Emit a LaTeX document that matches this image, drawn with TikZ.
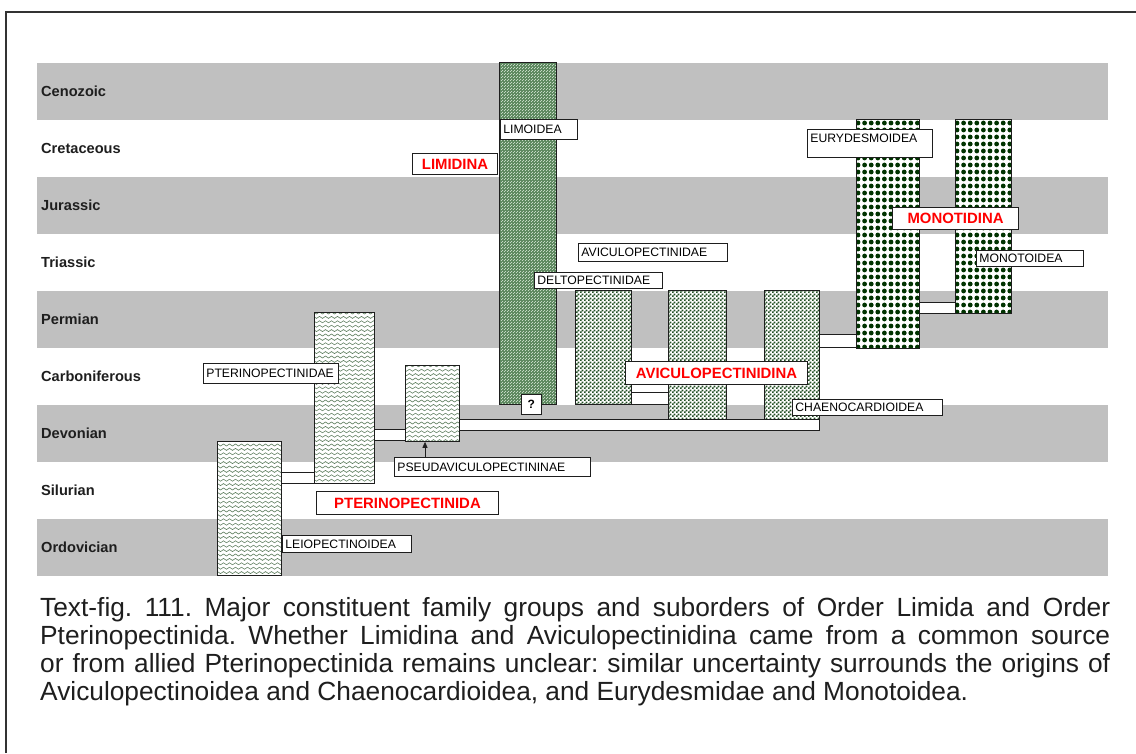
\documentclass[tikz,border=0pt]{standalone}
\usepackage{fontspec}
\setmainfont{Liberation Sans}
\usetikzlibrary{arrows.meta,patterns}
\definecolor{Ink}{HTML}{1E1E1E}
\definecolor{Band}{HTML}{C0C0C0}
\definecolor{Ripple}{HTML}{5E7E5F}
\definecolor{LimFill}{HTML}{5F8A61}
\definecolor{LimDot}{HTML}{C4D9C4}
\definecolor{Speck}{HTML}{224F24}
\definecolor{MonoDot}{HTML}{003300}
\definecolor{Suborder}{HTML}{FF0000}

% fills for the ranges
\pgfdeclarepatternformonly{ripple}{\pgfpoint{0pt}{-1.5pt}}{\pgfpoint{6pt}{1.5pt}}{\pgfpoint{6pt}{4.4pt}}{%
  \pgfsetlinewidth{0.6pt}%
  \pgfpathmoveto{\pgfpoint{0pt}{0pt}}%
  \pgfpathlineto{\pgfpoint{1.5pt}{1pt}}%
  \pgfpathlineto{\pgfpoint{4.5pt}{-1pt}}%
  \pgfpathlineto{\pgfpoint{6pt}{0pt}}%
  \pgfusepath{stroke}}
\pgfdeclarepatternformonly{lattice}{\pgfpointorigin}{\pgfpoint{3pt}{3pt}}{\pgfpoint{3pt}{3pt}}{%
  \pgfpathrectangle{\pgfpointorigin}{\pgfpoint{1pt}{1pt}}%
  \pgfpathrectangle{\pgfpoint{1.5pt}{1.5pt}}{\pgfpoint{1pt}{1pt}}%
  \pgfusepath{fill}}
\pgfdeclarepatternformonly{speckle}{\pgfpointorigin}{\pgfpoint{4pt}{4pt}}{\pgfpoint{4pt}{4pt}}{%
  \pgfpathrectangle{\pgfpointorigin}{\pgfpoint{2.1pt}{2.1pt}}%
  \pgfpathrectangle{\pgfpoint{2pt}{2pt}}{\pgfpoint{2.1pt}{2.1pt}}%
  \pgfusepath{fill}}
\pgfdeclarepatternformonly{monodots}{\pgfpoint{-3.3pt}{-3.5pt}}{\pgfpoint{3.3pt}{3.5pt}}{\pgfpoint{6.6pt}{7pt}}{%
  \pgfpathcircle{\pgfpointorigin}{2.4pt}%
  \pgfusepath{fill}}

% white tag, name set flush left
\newcommand{\Tag}[6]{%
  \pgfmathsetmacro\tagw{#4-6}%
  \node[tag,text width=\tagw pt,minimum height=#5] (#1) at (#2,#3) {#6};%
}

\begin{document}
\frenchspacing
\begin{tikzpicture}[x=1pt,y=-1pt,
  era/.style={anchor=west,inner sep=0pt,text=Ink,font=\fontsize{14.6}{16}\selectfont\bfseries},
  column/.style={draw=Ink,line width=0.8pt,fill=white,inner sep=0pt,anchor=north west},
  wavecol/.style={column,path picture={\fill[pattern=ripple,pattern color=Ripple]
    (path picture bounding box.south west) rectangle (path picture bounding box.north east);}},
  limcol/.style={column,fill=LimFill,path picture={\fill[pattern=lattice,pattern color=LimDot]
    (path picture bounding box.south west) rectangle (path picture bounding box.north east);}},
  speckcol/.style={column,path picture={\fill[pattern=speckle,pattern color=Speck]
    (path picture bounding box.south west) rectangle (path picture bounding box.north east);}},
  dotcol/.style={column,path picture={\fill[pattern=monodots,pattern color=MonoDot]
    (path picture bounding box.south west) rectangle (path picture bounding box.north east);}},
  bar/.style={draw=Ink,line width=0.8pt,fill=white},
  tag/.style={draw=Ink,fill=white,line width=0.8pt,anchor=north west,inner xsep=3pt,inner ysep=0pt,
    align=left,text=black,font=\fontsize{12.2}{14}\selectfont},
  suborder/.style={draw=Ink,fill=white,line width=1pt,anchor=north west,inner sep=0pt,
    text=Suborder,font=\fontsize{14.9}{17}\selectfont\bfseries},
  qbox/.style={draw=Ink,fill=white,line width=0.8pt,anchor=north west,inner sep=0pt,
    font=\fontsize{12}{14}\selectfont\bfseries},
  pointer/.style={draw=Ink,line width=0.8pt,-{Triangle[length=6pt,width=5pt]}},
  caption/.style={anchor=base west,inner sep=0pt,align=left,text=Ink,
    font=\fontsize{26.3}{27.7}\selectfont}]
\useasboundingbox (0,0) rectangle (1136,753);

% time scale
\foreach \n/\p in {0/Cenozoic,1/Cretaceous,2/Jurassic,3/Triassic,4/Permian,
                   5/Carboniferous,6/Devonian,7/Silurian,8/Ordovician} {
  \ifodd\n\else \fill[Band] (37,{63+57*\n}) rectangle (1108,{120+57*\n}); \fi
  \node[era] (era\n) at (41,{91.5+57*\n}) {\p};
}

% ranges
\node[wavecol,minimum width=64,minimum height=134] (leio) at (217,441) {};
\node[wavecol,minimum width=60,minimum height=171] (ptfam) at (314,312) {};
\node[wavecol,minimum width=54,minimum height=76] (pseudo) at (405,365) {};
\node[limcol,minimum width=57,minimum height=342] (limo) at (499,62) {};
\node[speckcol,minimum width=56,minimum height=114] (delto) at (575,290) {};
\node[speckcol,minimum width=58,minimum height=129] (avic) at (668,290) {};
\node[speckcol,minimum width=55,minimum height=129] (chaeno) at (764,290) {};
\node[dotcol,minimum width=63,minimum height=229] (eury) at (856,119) {};
\node[dotcol,minimum width=56,minimum height=194] (mono) at (955,119) {};

% links between ranges
\draw[bar] (leio.east |- 0,472) rectangle (ptfam.west |- 0,483);
\draw[bar] (ptfam.east |- 0,429) rectangle (pseudo.west |- 0,440);
\draw[bar] (pseudo.east |- 0,419) rectangle (chaeno.east |- 0,430);
\draw[bar] (delto.east |- 0,392) rectangle (avic.west |- 0,404);
\draw[bar] (chaeno.east |- 0,334) rectangle (eury.west |- 0,347);
\draw[bar] (eury.east |- 0,302) rectangle (mono.west |- 0,313);

% family group names
\Tag{limotag}{500}{119}{77}{20}{LIMOIDEA}
\Tag{avictag}{578}{243}{149}{18}{AVICULOPECTINIDAE}
\Tag{deltotag}{534}{272}{128}{16}{DELTOPECTINIDAE}
\Tag{chaenotag}{792}{399}{150}{16}{CHAENOCARDIOIDEA}
\Tag{pseudotag}{394}{457}{196}{19}{PSEUDAVICULOPECTININAE}
\Tag{ptfamtag}{203}{363}{135}{20}{PTERINOPECTINIDAE}
\Tag{leiotag}{282}{535}{129}{17}{LEIOPECTINOIDEA}
\Tag{monotag}{976}{250}{107}{16}{MONOTOIDEA}
\node[tag,text width=119pt,minimum height=28,inner ysep=4pt,text depth=11pt] (eurytag) at (807,129) {EURYDESMOIDEA};

% suborders
\node[suborder,minimum width=85,minimum height=21] (limidina) at (412,153) {LIMIDINA};
\node[suborder,minimum width=182,minimum height=23] (avicdina) at (625,361) {AVICULOPECTINIDINA};
\node[suborder,minimum width=182,minimum height=23] (ptdina) at (316,491) {PTERINOPECTINIDA};
\node[suborder,minimum width=126,minimum height=22] (monodina) at (892,207) {MONOTIDINA};
\node[qbox,minimum size=20] (qmark) at (521,394) {?};

\coordinate (pseudotip) at ([xshift=20pt]pseudo.south west);
\draw[pointer] (pseudotag.north -| pseudotip) -- (pseudotip);

% caption, anchored on its last line
\node[caption] (cap) at (40,700) {%
  \makebox[1070pt][s]{Text-fig. 111. Major constituent family groups and suborders of Order Limida and Order}\\
  \makebox[1070pt][s]{Pterinopectinida. Whether Limidina and Aviculopectinidina came from a common source}\\
  \makebox[1070pt][s]{or from allied Pterinopectinida remains unclear: similar uncertainty surrounds the origins of}\\
  Aviculopectinoidea and Chaenocardioidea, and Eurydesmidae and Monotoidea.};

% frame
\draw[draw=black!80,line width=2pt] (6,753) -- (6,12) -- (1136,12);
\end{tikzpicture}
\end{document}
